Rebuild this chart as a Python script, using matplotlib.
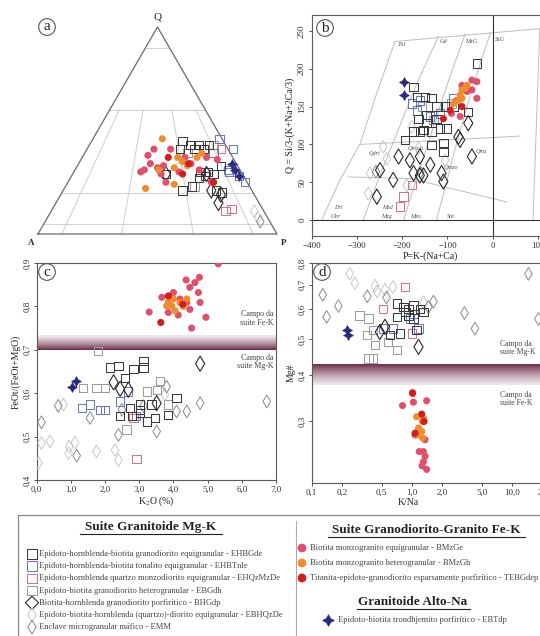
import numpy as np
import matplotlib.pyplot as plt
from matplotlib.patches import Rectangle
from matplotlib.ticker import FixedLocator, FixedFormatter, NullLocator

plt.rcParams['font.family'] = ['Liberation Serif', 'DejaVu Serif']
plt.rcParams['mathtext.fontset'] = 'stix'

W, H = 540, 636

# ---------------- data ----------------
# (a) QAP ternary, values as (Q %, P %)
a_EHBGde = [(45, 38), (43, 42), (43, 46), (41, 49), (43, 50), (41, 39), (30, 53), (28, 56), (27, 54),
            (30, 56), (29, 59), (33, 60), (21, 64), (21, 50), (23, 53), (20, 67), (29, 39), (41, 45)]
a_EHBTnle = [(46, 53), (39, 54), (30, 65), (25, 74), (28, 70), (41, 61), (31, 64)]
a_EHQzMzDe = [(11, 73), (12, 75), (41, 56)]
a_EBGdh = [(23, 54), (39, 43), (43, 52)]
a_BHGdp = [(15, 68), (21, 62), (19, 67), (29, 39), (29, 56)]
a_EBHQzDe = [(32, 43), (8, 88), (11, 85)]
a_EMM = [(6, 90)]
a_BMzGe = [(41, 28), (31, 29), (30, 28), (34, 30), (32, 34), (33, 36), (25, 41), (30, 44), (41, 35),
           (37, 43), (34, 47), (37, 52), (25, 60), (31, 52), (36, 57), (38, 27), (29, 37)]
a_BMzGh = [(46, 29), (22, 34), (31, 35), (37, 40), (24, 45), (33, 46), (37, 48), (39, 49), (35, 43), (32, 41)]
a_TEBGdep = [(34, 46), (25, 61), (29, 46), (37, 36)]
a_EBTdp = [(34, 64), (28, 70), (31, 67)]

# (b) P-Q diagram, (P, Q)
b_EHBGde = [(-35, 207), (-175, 176), (-168, 163), (-150, 163), (-135, 161), (-124, 150), (-102, 150),
            (-87, 150), (-54, 143), (-164, 134), (-146, 128), (-135, 117), (-116, 121), (-102, 121),
            (-161, 117), (-194, 106), (-135, 99), (-109, 102), (-109, 90), (-146, 139), (-124, 134),
            (-153, 119), (-175, 117)]
b_EHBTnle = [(-179, 154), (-161, 158), (-138, 137), (-116, 141), (-87, 161), (-168, 145)]
b_EHQzMzDe = [(-179, 46), (-197, 31), (-205, 18)]
b_EBGdh = [(-91, 154), (-131, 132), (-157, 150)]
b_BHGdp = [(-76, 110), (-72, 106), (-54, 128), (-46, 84), (-161, 84), (-183, 79), (-208, 84), (-249, 66),
           (-256, 31), (-175, 62), (-153, 59), (-109, 51), (-113, 62), (-138, 73), (-220, 53), (-161, 59)]
b_EBHQzDe = [(-242, 97), (-234, 81), (-271, 62), (-275, 35), (-164, 95), (-105, 79), (-190, 46), (-179, 123)]
b_EMM = [(-258, 64), (-160, 63)]
b_BMzGe = [(-68, 178), (-46, 185), (-35, 183), (-57, 170), (-35, 161), (-72, 137), (-91, 141),
           (-46, 172), (-80, 158)]
b_BMzGh = [(-68, 172), (-72, 165), (-61, 174), (-76, 158), (-68, 161), (-87, 154), (-57, 178)]
b_TEBGdep = [(-109, 134), (-94, 145), (-68, 150)]
b_EBTdp = [(-196, 183), (-196, 165)]

# field boundaries of the P-Q diagram
b_lines = [
    [(-378, 0), (-340, 50), (-293, 101), (-255, 170), (-216, 236)],
    [(-286, 0), (-252, 55), (-215, 110), (-168, 180), (-120, 243)],
    [(-197, 0), (-168, 55), (-138, 110), (-100, 180), (-61, 246)],
    [(-124, 0), (-100, 55), (-76, 110), (-42, 180), (-5, 248)],
    [(-293, 100), (60, 111)],
    [(-318, 57), (-183, 55), (31, 24)],
    [(-216, 236), (105, 253)],
    [(89, 0), (104, 252)],
]
b_fields = [('Tnl', -200, 232), ('Gd', -108, 236), ('MzG', -47, 236), ('SzG', 16, 238),
            ('Qdri', -262, 88), ('Qmzdi', -170, 95), ('Qmz', -25, 90), ('Qmzo', -92, 69),
            ('Dri', -342, 16), ('Gbr', -346, 5), ('Mzd', -232, 16), ('Mzg', -234, 5),
            ('Mzo', -170, 5), ('Snt', -92, 5)]

# (c) K2O vs FeOt/(FeOt+MgO)
c_EHBGde = [(2.14, 0.659), (2.39, 0.662), (2.58, 0.635), (2.83, 0.655), (3.12, 0.674), (3.12, 0.659),
            (3.02, 0.562), (2.73, 0.566), (3.02, 0.574), (2.78, 0.547), (2.44, 0.547), (3.22, 0.535),
            (3.46, 0.543), (3.85, 0.550), (4.09, 0.589), (3.36, 0.574), (3.02, 0.555)]
c_EHBTnle = [(1.32, 0.566), (1.56, 0.574), (1.85, 0.562), (2.00, 0.562), (2.44, 0.581), (2.68, 0.604), (2.90, 0.548)]
c_EHQzMzDe = [(2.92, 0.448), (2.83, 0.543)]
c_EBGdh = [(1.80, 0.697), (1.36, 0.612), (1.75, 0.612), (2.00, 0.612), (3.22, 0.604), (3.51, 0.608),
           (3.61, 0.628), (3.85, 0.574), (2.63, 0.516)]
c_BHGdp = [(4.78, 0.668), (2.44, 0.610), (2.68, 0.608), (3.51, 0.577), (2.25, 0.625)]
c_EBHQzDe = [(0.05, 0.439), (0.14, 0.485), (0.39, 0.489), (0.93, 0.462), (0.95, 0.477), (1.12, 0.486),
             (1.75, 0.466), (2.29, 0.469), (2.39, 0.446), (0.78, 0.574), (3.75, 0.597)]
c_EMM = [(0.14, 0.533), (0.63, 0.571), (1.17, 0.456), (1.56, 0.543), (2.39, 0.504), (2.49, 0.562),
         (3.51, 0.512), (3.80, 0.615), (4.09, 0.558), (4.39, 0.558), (4.78, 0.577), (6.73, 0.581), (3.12, 0.570)]
c_BMzGe = [(5.31, 0.898), (4.76, 0.867), (4.63, 0.855), (4.37, 0.861), (4.48, 0.844), (4.73, 0.832),
           (4.00, 0.832), (4.19, 0.817), (4.39, 0.809), (4.78, 0.809), (3.29, 0.787), (3.85, 0.786),
           (4.48, 0.793), (4.14, 0.780), (4.95, 0.775), (4.53, 0.750), (3.66, 0.821), (3.90, 0.824)]
c_BMzGh = [(3.85, 0.809), (4.00, 0.817), (4.19, 0.809), (3.95, 0.801), (4.29, 0.800), (4.05, 0.790),
           (3.80, 0.801), (4.39, 0.817)]
c_TEBGdep = [(3.85, 0.824), (3.63, 0.763), (4.27, 0.805)]
c_EBTdp = [(1.02, 0.614), (1.15, 0.627)]

# (d) K/Na vs Mg#
d_EHBGde = [(0.71, 0.622), (0.83, 0.609), (0.93, 0.602), (1.04, 0.615), (1.21, 0.602), (0.93, 0.578),
            (0.71, 0.573), (1.04, 0.567), (1.31, 0.590), (1.12, 0.528), (0.76, 0.517), (0.61, 0.512), (0.87, 0.590)]
d_EHBTnle = [(0.96, 0.567), (1.04, 0.584), (0.65, 0.533), (0.52, 0.533), (1.17, 0.533)]
d_EHQzMzDe = [(0.86, 0.689), (0.52, 0.602), (1.00, 0.517)]
d_EBGdh = [(0.43, 0.481), (0.58, 0.491), (0.71, 0.467), (0.37, 0.443), (0.41, 0.443), (0.30, 0.578),
           (0.37, 0.567), (0.41, 0.528), (0.36, 0.512)]
d_BHGdp = [(0.54, 0.539), (0.48, 0.522), (1.17, 0.476)]
d_EBHQzDe = [(0.24, 0.748), (0.27, 0.706), (0.45, 0.671), (0.54, 0.679), (0.65, 0.689), (0.43, 0.695), (1.31, 0.628)]
d_EMM = [(0.129, 0.657), (0.141, 0.573), (0.185, 0.613), (0.36, 0.651), (1.65, 0.630), (1.47, 0.609),
         (3.37, 0.587), (4.29, 0.533), (14.7, 0.748), (18.5, 0.566), (0.56, 0.646)]
d_BMzGe = [(1.02, 0.359), (1.04, 0.338), (1.41, 0.341), (0.81, 0.331), (1.19, 0.249), (1.36, 0.268),
           (1.31, 0.234), (1.36, 0.242), (1.27, 0.228), (1.41, 0.223), (1.31, 0.249), (1.08, 0.276)]
d_BMzGh = [(1.12, 0.309), (1.28, 0.300), (1.17, 0.288), (1.26, 0.282), (1.12, 0.276), (1.31, 0.306), (1.28, 0.271)]
d_TEBGdep = [(1.02, 0.357), (1.08, 0.279), (1.26, 0.314), (1.33, 0.300)]
d_EBTdp = [(0.224, 0.527), (0.23, 0.513)]

# ticks
b_xticks = [-400, -300, -200, -100, 0, 100]
b_yticks = [0, 50, 100, 150, 200, 250]
c_xticks = [0, 1, 2, 3, 4, 5, 6, 7]
c_xlabels = ['0,0', '1,0', '2,0', '3,0', '4,0', '5,0', '6,0', '7,0']
c_yticks = [0.4, 0.5, 0.6, 0.7, 0.8, 0.9]
c_ylabels = ['0,4', '0,5', '0,6', '0,7', '0,8', '0,9']
d_xticks = [0.1, 0.2, 0.5, 1, 2, 5, 10, 20]
d_xlabels = ['0,1', '0,2', '0,5', '1,0', '2,0', '5,0', '10,0', '20']
d_yticks = [0.3, 0.4, 0.5, 0.6, 0.7, 0.8]
d_ylabels = ['0,3', '0,4', '0,5', '0,6', '0,7', '0,8']

c_band = (0.700, 0.734)
d_band = (0.375, 0.428)

# legend text
left_codes = ['EHBGde', 'EHBTnle', 'EHQzMzDe', 'EBGdh', 'BHGdp', 'EBHQzDe', 'EMM']
left_labels = [
    'Epidoto-hornblenda-biotita granodiorito equigranular - EHBGde',
    'Epidoto-hornblenda-biotita tonalito equigranular - EHBTnle',
    'Epidoto-hornblenda quartzo monzodiorito equigranular - EHQzMzDe',
    'Epidoto-biotita granodiorito heterogranular - EBGdh',
    'Biotita-hornblenda granodiorito porfirítico - BHGdp',
    'Epidoto-biotita-hornblenda (quartzo)-diorito equigranular - EBHQzDe',
    'Enclave microgranular máfico - EMM',
]
right_codes = ['BMzGe', 'BMzGh', 'TEBGdep']
right_labels = [
    'Biotita monzogranito equigranular - BMzGe',
    'Biotita monzogranito heterogranular - BMzGh',
    'Titanita-epidoto-granodiorito esparsamente porfirítico - TEBGdep',
]
na_label = 'Epidoto-biotita trondhjemito porfirítico - EBTdp'

# ---------------- styles ----------------
codes = ['EBHQzDe', 'EMM', 'EBGdh', 'EHQzMzDe', 'EHBTnle', 'EHBGde', 'BHGdp',
         'BMzGe', 'BMzGh', 'TEBGdep', 'EBTdp']
sq = dict(marker='s', s=36, facecolors='none', linewidths=0.75)
styles = {
    'EHBGde': dict(sq, edgecolors='#3a3a3a'),
    'EHBTnle': dict(sq, edgecolors='#6a78c0'),
    'EHQzMzDe': dict(sq, edgecolors='#d8737f'),
    'EBGdh': dict(sq, edgecolors='#9c9c9c'),
    'BHGdp': dict(marker='d', s=60, facecolors='none', edgecolors='#2a2a2a', linewidths=0.8),
    'EBHQzDe': dict(marker='d', s=42, facecolors='none', edgecolors='#c8c8c8', linewidths=0.7),
    'EMM': dict(marker='d', s=42, facecolors='none', edgecolors='#8a8a8a', linewidths=0.7),
    'BMzGe': dict(marker='o', s=26, facecolors='#e04f6c', edgecolors='none'),
    'BMzGh': dict(marker='o', s=26, facecolors='#ee8c2e', edgecolors='none'),
    'TEBGdep': dict(marker='o', s=26, facecolors='#d41c20', edgecolors='none'),
    'EBTdp': dict(marker=(4, 1, 0), s=50, facecolors='#2c2a80', edgecolors='#2c2a80', linewidths=0.5),
}

fig = plt.figure(figsize=(5.4, 6.36), dpi=100)


def px_axes(x0, y0, x1, y1):
    return fig.add_axes([x0 / W, 1 - y1 / H, (x1 - x0) / W, (y1 - y0) / H])


def plot_groups(ax, data, conv=None):
    for code in codes:
        pts = data.get(code)
        if not pts:
            continue
        xs, ys = np.array(pts, dtype=float).T
        if conv:
            xs, ys = conv(xs, ys)
        ax.scatter(xs, ys, zorder=3, **styles[code])


def style_axes(ax):
    for sp in ax.spines.values():
        sp.set_color('#5a5a5a')
        sp.set_linewidth(0.8)
    ax.tick_params(labelsize=6.5, length=2.5, width=0.6, colors='#333', pad=1.5)
    for lab in ax.get_yticklabels():
        lab.set_rotation(90)
        lab.set_va('center')


def panel_tag(x, y, t):
    fig.text(x / W, 1 - y / H, t, fontsize=11, ha='center', va='center', color='#222',
             bbox=dict(boxstyle='circle,pad=0.12', fc='white', ec='#555', lw=0.8))


def gradient(ax, lo, hi, dark_top, log=False):
    n = 40
    edges = np.geomspace(lo, hi, n + 1) if log else np.linspace(lo, hi, n + 1)
    light = np.array([0.95, 0.91, 0.93])
    dark = np.array([0.42, 0.19, 0.29])
    for i in range(n):
        t = (i + 0.5) / n
        f = t if dark_top else 1 - t
        col = light + (dark - light) * f ** 1.3
        ax.axhspan(edges[i], edges[i + 1], color=col, lw=0, zorder=1)


# ---------------- (a) ternary ----------------
axa = px_axes(20, 10, 290, 250)
axa.set_xlim(-18 / 239, 1 + 13 / 239)
axa.set_ylim(-16 / 239, 224 / 239)
axa.axis('off')
h3 = np.sqrt(3) / 2


def tern(q, p):
    q = np.asarray(q) / 100.0
    p = np.asarray(p) / 100.0
    return p + q / 2, q * h3


for qv in [0.9, 0.6, 0.2, 0.05]:
    axa.plot([qv / 2, 1 - qv / 2], [qv * h3, qv * h3], color='#cfcfcf', lw=0.7, zorder=1)
for r in [0.10, 0.35, 0.65, 0.90]:
    qq = np.array([0.0, 0.6])
    axa.plot(r * (1 - qq) + qq / 2, qq * h3, color='#cfcfcf', lw=0.7, zorder=1)
axa.plot([0, 1, 0.5, 0], [0, 0, h3, 0], color='#6a6a6a', lw=0.9, zorder=2)
plot_groups(axa, {'EHBGde': a_EHBGde, 'EHBTnle': a_EHBTnle, 'EHQzMzDe': a_EHQzMzDe, 'EBGdh': a_EBGdh,
                  'BHGdp': a_BHGdp, 'EBHQzDe': a_EBHQzDe, 'EMM': a_EMM, 'BMzGe': a_BMzGe,
                  'BMzGh': a_BMzGh, 'TEBGdep': a_TEBGdep, 'EBTdp': a_EBTdp}, conv=tern)
axa.text(0.5, h3 + 0.025, 'Q', ha='center', va='bottom', fontsize=8, color='#222')
axa.text(-0.015, -0.02, 'A', ha='right', va='top', fontsize=6.5, color='#222', fontweight='bold')
axa.text(1.015, -0.02, 'P', ha='left', va='top', fontsize=6.5, color='#222', fontweight='bold')
panel_tag(47, 27, 'a')

# ---------------- (b) P-Q ----------------
axb = px_axes(311.7, 15, 560.6, 236)
axb.set_xlim(-400, 150)
axb.set_ylim(-21, 271)
for ln in b_lines:
    xs, ys = np.array(ln, dtype=float).T
    axb.plot(xs, ys, color='#bdbdbd', lw=0.7, zorder=1)
axb.axhline(0, color='#333', lw=0.8, zorder=2)
axb.axvline(0, color='#333', lw=0.8, zorder=2)
for t, x, y in b_fields:
    axb.text(x, y, t, fontsize=4.5, style='italic', color='#555', ha='center', va='center', zorder=2)
plot_groups(axb, {'EHBGde': b_EHBGde, 'EHBTnle': b_EHBTnle, 'EHQzMzDe': b_EHQzMzDe, 'EBGdh': b_EBGdh,
                  'BHGdp': b_BHGdp, 'EBHQzDe': b_EBHQzDe, 'EMM': b_EMM, 'BMzGe': b_BMzGe,
                  'BMzGh': b_BMzGh, 'TEBGdep': b_TEBGdep, 'EBTdp': b_EBTdp})
axb.xaxis.set_major_locator(FixedLocator(b_xticks))
axb.yaxis.set_major_locator(FixedLocator(b_yticks))
style_axes(axb)
axb.set_xlabel('P=K-(Na+Ca)', fontsize=7, labelpad=1, color='#222')
axb.set_ylabel('Q = Si/3-(K+Na+2Ca/3)', fontsize=7, labelpad=2, color='#222')
axb.xaxis.set_label_coords((430 - 311.7) / (560.6 - 311.7), -0.07)
panel_tag(325, 28, 'b')

# ---------------- (c) K2O vs FeOt ----------------
axc = px_axes(36.7, 263, 276, 480)
axc.set_xlim(0, 7)
axc.set_ylim(0.4, 0.9)
gradient(axc, c_band[0], c_band[1], dark_top=False)
plot_groups(axc, {'EHBGde': c_EHBGde, 'EHBTnle': c_EHBTnle, 'EHQzMzDe': c_EHQzMzDe, 'EBGdh': c_EBGdh,
                  'BHGdp': c_BHGdp, 'EBHQzDe': c_EBHQzDe, 'EMM': c_EMM, 'BMzGe': c_BMzGe,
                  'BMzGh': c_BMzGh, 'TEBGdep': c_TEBGdep, 'EBTdp': c_EBTdp})
axc.xaxis.set_major_locator(FixedLocator(c_xticks))
axc.xaxis.set_major_formatter(FixedFormatter(c_xlabels))
axc.yaxis.set_major_locator(FixedLocator(c_yticks))
axc.yaxis.set_major_formatter(FixedFormatter(c_ylabels))
style_axes(axc)
axc.set_xlabel('K$_2$O (%)', fontsize=7, labelpad=1, color='#222')
axc.set_ylabel('FeOt/(FeOt+MgO)', fontsize=7, labelpad=2, color='#222')
axc.text(6.93, 0.772, 'Campo da\nsuite Fe-K', fontsize=5.8, color='#444', ha='right', va='center',
         linespacing=1.05)
axc.text(6.93, 0.672, 'Campo da\nsuite Mg-K', fontsize=5.8, color='#444', ha='right', va='center',
         linespacing=1.05)
panel_tag(47, 272, 'c')

# ---------------- (d) K/Na vs Mg# ----------------
axd = px_axes(311.7, 263, 559.4, 483)
axd.set_xscale('log')
axd.set_yscale('log')
axd.set_xlim(0.1, 30)
axd.set_ylim(0.205, 0.8)
gradient(axd, d_band[0], d_band[1], dark_top=True, log=True)
plot_groups(axd, {'EHBGde': d_EHBGde, 'EHBTnle': d_EHBTnle, 'EHQzMzDe': d_EHQzMzDe, 'EBGdh': d_EBGdh,
                  'BHGdp': d_BHGdp, 'EBHQzDe': d_EBHQzDe, 'EMM': d_EMM, 'BMzGe': d_BMzGe,
                  'BMzGh': d_BMzGh, 'TEBGdep': d_TEBGdep, 'EBTdp': d_EBTdp})
axd.xaxis.set_major_locator(FixedLocator(d_xticks))
axd.xaxis.set_major_formatter(FixedFormatter(d_xlabels))
axd.xaxis.set_minor_locator(NullLocator())
axd.yaxis.set_major_locator(FixedLocator(d_yticks))
axd.yaxis.set_major_formatter(FixedFormatter(d_ylabels))
axd.yaxis.set_minor_locator(NullLocator())
style_axes(axd)
axd.set_xlabel('K/Na', fontsize=7, labelpad=1, color='#222')
axd.xaxis.set_label_coords((408 - 311.7) / (559.4 - 311.7), -0.07)
axd.set_ylabel('Mg#', fontsize=7, labelpad=2, color='#222')
axd.text(7.6, 0.472, 'Campo da\nsuite Mg-K', fontsize=5.6, color='#444', ha='left', va='center',
         linespacing=1.05)
axd.text(7.6, 0.345, 'Campo da\nsuite Fe-K', fontsize=5.6, color='#444', ha='left', va='center',
         linespacing=1.05)
panel_tag(322, 272, 'd')

# ---------------- legend block ----------------
axl = fig.add_axes([0, 0, 1, (H - 505) / H])
axl.set_xlim(0, W)
axl.set_ylim(H, 505)
axl.axis('off')
axl.add_patch(Rectangle((18, 515), 540, 130, fill=False, ec='#888', lw=0.9, clip_on=False))
axl.plot([296, 296], [521, 640], color='#aaa', lw=0.8, clip_on=False)

axl.text(151, 527, 'Suite Granitoide Mg-K', fontsize=9.5, fontweight='bold', ha='center', va='center', color='#222')
axl.plot([80, 222], [534, 534], color='#222', lw=0.8)
for i, (code, lab) in enumerate(zip(left_codes, left_labels)):
    y = 554 + 12.2 * i
    st = dict(styles[code])
    if code == 'BHGdp':
        st.update(marker='D', s=45)
    elif code in ('EBHQzDe', 'EMM'):
        st.update(s=50)
    else:
        st.update(s=48)
    axl.scatter([32], [y], clip_on=False, **st)
    axl.text(39, y, lab, fontsize=6.1, color='#444', va='center', ha='left')

axl.text(426, 530, 'Suite Granodiorito-Granito Fe-K', fontsize=9.5, fontweight='bold', ha='center', va='center', color='#222')
axl.plot([328, 525], [537, 537], color='#222', lw=0.8)
for i, (code, lab) in enumerate(zip(right_codes, right_labels)):
    y = 548 + 15 * i
    st = dict(styles[code])
    st.update(s=40)
    axl.scatter([302], [y], clip_on=False, **st)
    axl.text(310, y, lab, fontsize=6.1, color='#444', va='center', ha='left')

axl.text(413, 602, 'Granitoide Alto-Na', fontsize=9.5, fontweight='bold', ha='center', va='center', color='#222')
axl.plot([357, 470], [609, 609], color='#222', lw=0.8)
st = dict(styles['EBTdp'])
st.update(s=70)
axl.scatter([328], [620], clip_on=False, **st)
axl.text(338, 620, na_label, fontsize=6.1, color='#444', va='center', ha='left')

fig.savefig('out.png', dpi=100)
